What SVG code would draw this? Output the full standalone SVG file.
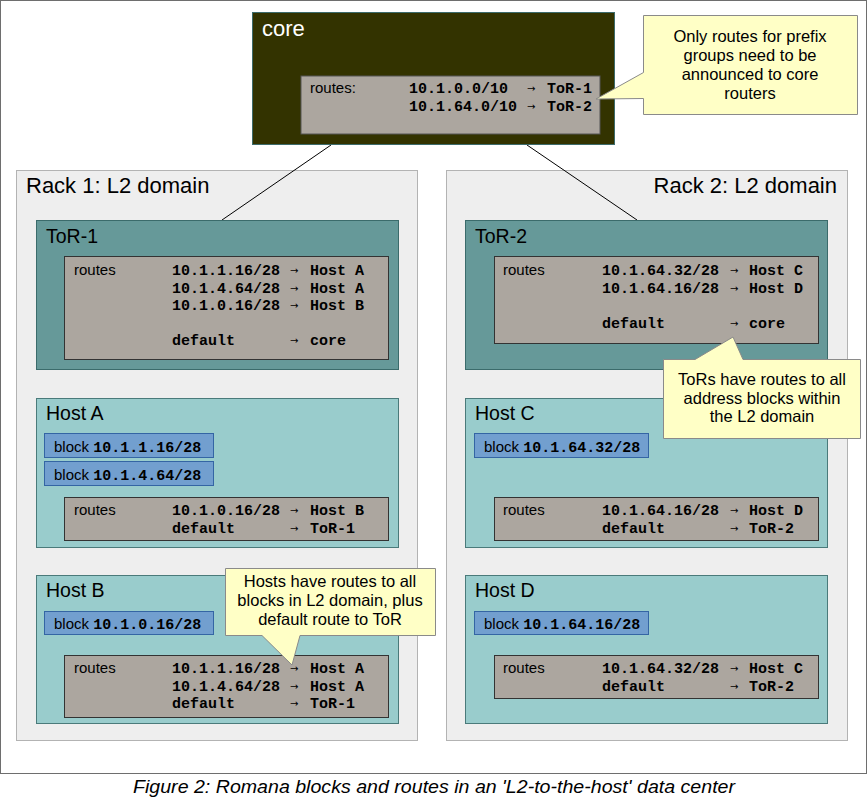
<svg xmlns="http://www.w3.org/2000/svg" width="868" height="801" viewBox="0 0 868 801">
<style>
.frame{fill:#ffffff;stroke:#6e6e6e;stroke-width:1}
.rack{fill:#eeeeee;stroke:#b3b3b3;stroke-width:1}
.core{fill:#333300;stroke:#3d6b6b;stroke-width:1}
.tor{fill:#669999;stroke:#3b6b6b;stroke-width:1}
.host{fill:#99cccc;stroke:#4a7a7a;stroke-width:1}
.rt{fill:#aca69f;stroke:#333333;stroke-width:1}
.blk{fill:#729fcf;stroke:#3465a4;stroke-width:1}
.call{fill:#ffffc6;stroke:#8a8a8a;stroke-width:1}
.link{stroke:#000000;stroke-width:1;fill:none}
.sans{font-family:"Liberation Sans",Arial,sans-serif;fill:#000}
.t22{font-size:22px}
.t19{font-size:19.5px}
.t15{font-size:15px}
.t16{font-size:16.5px;text-anchor:middle}
.mono{font-family:"Liberation Mono","Courier New",monospace;font-weight:bold;font-size:15px;fill:#000}
.arr{font-family:"DejaVu Sans",sans-serif;font-size:10px;fill:#000}
.cap{font-family:"Liberation Sans",Arial,sans-serif;font-style:italic;font-size:18px;text-anchor:middle;fill:#000}
</style>
<rect class="frame" x="0.5" y="0.5" width="866" height="773"/>

<g id="rack1">
<rect class="rack" x="16.5" y="170.5" width="401" height="570"/>
<text class="sans t22" x="26" y="193">Rack 1: L2 domain</text>
</g>
<g id="rack2">
<rect class="rack" x="446.5" y="170.5" width="401" height="570"/>
<text class="sans t22" x="837" y="193" text-anchor="end">Rack 2: L2 domain</text>
</g>

<g id="connectors">
<line class="link" x1="331" y1="145" x2="222" y2="220"/>
<line class="link" x1="527" y1="145" x2="637" y2="220"/>
</g>

<g id="core">
<rect class="core" x="252.5" y="12.5" width="362" height="132"/>
<text class="sans t22" x="262" y="36" style="fill:#ffffff">core</text>
<rect class="rt" x="301" y="76" width="299" height="58" style="stroke:#555"/>
<text class="sans t15" x="310" y="93">routes:</text>
<text class="mono" x="409" y="93">10.1.0.0/10</text><text class="arr" x="527" y="92">→</text><text class="mono" x="547" y="93">ToR-1</text>
<text class="mono" x="409" y="110.5">10.1.64.0/10</text><text class="arr" x="527" y="109.5">→</text><text class="mono" x="547" y="110.5">ToR-2</text>
</g>

<g id="tor1">
<rect class="tor" x="36.5" y="220.5" width="362" height="149"/>
<text class="sans t19" x="46" y="243">ToR-1</text>
<rect class="rt" x="64.5" y="256.5" width="324" height="103"/>
<text class="sans t15" x="74" y="275">routes</text>
<text class="mono" x="172" y="275">10.1.1.16/28</text><text class="arr" x="290" y="274">→</text><text class="mono" x="310" y="275">Host A</text>
<text class="mono" x="172" y="292.5">10.1.4.64/28</text><text class="arr" x="290" y="291.5">→</text><text class="mono" x="310" y="292.5">Host A</text>
<text class="mono" x="172" y="310">10.1.0.16/28</text><text class="arr" x="290" y="309">→</text><text class="mono" x="310" y="310">Host B</text>
<text class="mono" x="172" y="345">default</text><text class="arr" x="290" y="344">→</text><text class="mono" x="310" y="345">core</text>
</g>

<g id="tor2">
<rect class="tor" x="465.5" y="220.5" width="362" height="149"/>
<text class="sans t19" x="475" y="243">ToR-2</text>
<rect class="rt" x="494.5" y="256.5" width="324" height="87"/>
<text class="sans t15" x="503" y="275">routes</text>
<text class="mono" x="602" y="275">10.1.64.32/28</text><text class="arr" x="730" y="274">→</text><text class="mono" x="749" y="275">Host C</text>
<text class="mono" x="602" y="292.5">10.1.64.16/28</text><text class="arr" x="730" y="291.5">→</text><text class="mono" x="749" y="292.5">Host D</text>
<text class="mono" x="602" y="327.5">default</text><text class="arr" x="730" y="326.5">→</text><text class="mono" x="749" y="327.5">core</text>
</g>

<g id="hostA">
<rect class="host" x="36.5" y="398.5" width="362" height="149"/>
<text class="sans t19" x="46" y="420">Host A</text>
<rect class="blk" x="44.5" y="433.5" width="169" height="24"/>
<text x="54" y="452"><tspan class="sans t15">block </tspan><tspan class="mono">10.1.1.16/28</tspan></text>
<rect class="blk" x="44.5" y="461.5" width="169" height="24"/>
<text x="54" y="480"><tspan class="sans t15">block </tspan><tspan class="mono">10.1.4.64/28</tspan></text>
<rect class="rt" x="64.5" y="497.5" width="324" height="43"/>
<text class="sans t15" x="74" y="515">routes</text>
<text class="mono" x="172" y="515">10.1.0.16/28</text><text class="arr" x="290" y="514">→</text><text class="mono" x="310" y="515">Host B</text>
<text class="mono" x="172" y="532.5">default</text><text class="arr" x="290" y="531.5">→</text><text class="mono" x="310" y="532.5">ToR-1</text>
</g>

<g id="hostB">
<rect class="host" x="36.5" y="575.5" width="362" height="148"/>
<text class="sans t19" x="46" y="597">Host B</text>
<rect class="blk" x="44.5" y="611.5" width="169" height="23"/>
<text x="54" y="629"><tspan class="sans t15">block </tspan><tspan class="mono">10.1.0.16/28</tspan></text>
<rect class="rt" x="64.5" y="655.5" width="324" height="62"/>
<text class="sans t15" x="74" y="673">routes</text>
<text class="mono" x="172" y="673">10.1.1.16/28</text><text class="arr" x="290" y="672">→</text><text class="mono" x="310" y="673">Host A</text>
<text class="mono" x="172" y="690.5">10.1.4.64/28</text><text class="arr" x="290" y="689.5">→</text><text class="mono" x="310" y="690.5">Host A</text>
<text class="mono" x="172" y="708">default</text><text class="arr" x="290" y="707">→</text><text class="mono" x="310" y="708">ToR-1</text>
</g>

<g id="hostC">
<rect class="host" x="465.5" y="398.5" width="362" height="149"/>
<text class="sans t19" x="475" y="420">Host C</text>
<rect class="blk" x="474.5" y="433.5" width="174" height="24"/>
<text x="484" y="452"><tspan class="sans t15">block </tspan><tspan class="mono">10.1.64.32/28</tspan></text>
<rect class="rt" x="494.5" y="497.5" width="324" height="43"/>
<text class="sans t15" x="503" y="515">routes</text>
<text class="mono" x="602" y="515">10.1.64.16/28</text><text class="arr" x="730" y="514">→</text><text class="mono" x="749" y="515">Host D</text>
<text class="mono" x="602" y="532.5">default</text><text class="arr" x="730" y="531.5">→</text><text class="mono" x="749" y="532.5">ToR-2</text>
</g>

<g id="hostD">
<rect class="host" x="465.5" y="575.5" width="362" height="148"/>
<text class="sans t19" x="475" y="597">Host D</text>
<rect class="blk" x="474.5" y="611.5" width="174" height="23"/>
<text x="484" y="629"><tspan class="sans t15">block </tspan><tspan class="mono">10.1.64.16/28</tspan></text>
<rect class="rt" x="494.5" y="655.5" width="324" height="43"/>
<text class="sans t15" x="503" y="673">routes</text>
<text class="mono" x="602" y="673">10.1.64.32/28</text><text class="arr" x="730" y="672">→</text><text class="mono" x="749" y="673">Host C</text>
<text class="mono" x="602" y="690.5">default</text><text class="arr" x="730" y="689.5">→</text><text class="mono" x="749" y="690.5">ToR-2</text>
</g>

<g id="callout-core">
<path class="call" d="M643.5,15.5 H857.5 V114.5 H643.5 V98.5 L596,99 L643.5,72.5 Z"/>
<text class="sans t16" x="750" y="42">Only routes for prefix</text>
<text class="sans t16" x="750" y="61">groups need to be</text>
<text class="sans t16" x="750" y="80">announced to core</text>
<text class="sans t16" x="750" y="99">routers</text>
</g>

<g id="callout-tor">
<path class="call" d="M663.5,359.5 H695 L733,337 L743,359.5 H860.5 V438.5 H663.5 Z"/>
<text class="sans t16" x="762" y="385">ToRs have routes to all</text>
<text class="sans t16" x="762" y="403.5">address blocks within</text>
<text class="sans t16" x="762" y="422">the L2 domain</text>
</g>

<g id="callout-host">
<path class="call" d="M225.5,568.5 H435.5 V635.5 H300 L292,665 L262,635.5 H225.5 Z"/>
<text class="sans t16" x="330" y="587">Hosts have routes to all</text>
<text class="sans t16" x="330" y="606">blocks in L2 domain, plus</text>
<text class="sans t16" x="330" y="625">default route to ToR</text>
</g>

<text class="cap" x="434" y="793" textLength="602" lengthAdjust="spacingAndGlyphs">Figure 2: Romana blocks and routes in an 'L2-to-the-host' data center</text>
</svg>
